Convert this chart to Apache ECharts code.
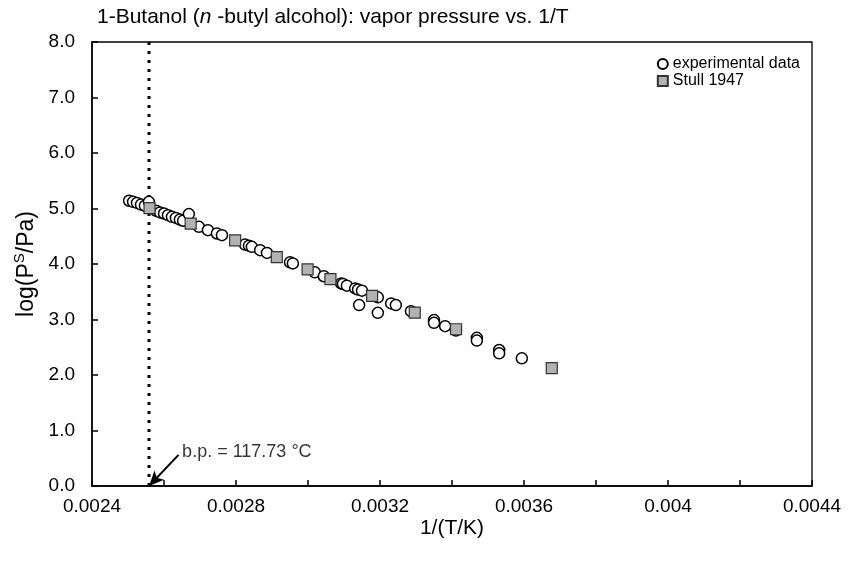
<!DOCTYPE html>
<html><head><meta charset="utf-8">
<script src="https://cdn.jsdelivr.net/npm/echarts@6/dist/echarts.min.js"></script>
<style>html,body{margin:0;padding:0;background:#fff}#c{width:848px;height:565px}</style>
</head><body><div id="c"></div>
<script>
// experimental data: 1/T (1/K) and log(P/Pa)
const expX = [0.002503,0.002514,0.002525,0.002536,0.002547,0.002558,0.002578,0.002589,0.002600,0.002611,0.002622,0.002633,0.002644,0.002653,0.002669,0.002697,0.002722,0.002747,0.002761,0.002825,0.002836,0.002844,0.002867,0.002886,0.002950,0.002958,0.003019,0.003044,0.003092,0.003097,0.003108,0.003131,0.003139,0.003150,0.003194,0.003142,0.003194,0.003231,0.003244,0.003286,0.003350,0.003350,0.003381,0.003411,0.003469,0.003469,0.003531,0.003531,0.003594];
const expY = [5.14,5.12,5.10,5.07,5.05,5.12,4.96,4.93,4.91,4.88,4.85,4.83,4.80,4.78,4.90,4.67,4.61,4.55,4.52,4.35,4.33,4.31,4.25,4.20,4.03,4.01,3.85,3.78,3.65,3.64,3.61,3.56,3.54,3.52,3.40,3.26,3.12,3.29,3.26,3.15,2.99,2.94,2.88,2.80,2.67,2.62,2.45,2.39,2.30];
// Stull 1947
const stullX = [0.0025598,0.0026741,0.0027976,0.0029133,0.0029989,0.0030623,0.0031781,0.0032965,0.0034112,0.0036771];
const stullY = [5.006,4.727,4.426,4.125,3.903,3.727,3.426,3.125,2.824,2.125];
const xTickLabels = ['0.0024','0.0028','0.0032','0.0036','0.004','0.0044'];
const yTickLabels = ['0.0','1.0','2.0','3.0','4.0','5.0','6.0','7.0','8.0'];
const boilingPointC = 117.73;
const bpX = 1 / (boilingPointC + 273.15);

const chart = echarts.init(document.getElementById('c'));
const font = 'Liberation Sans, Arial, sans-serif';
chart.setOption({
  animation: false,
  backgroundColor: '#fff',
  textStyle: {fontFamily: font, color: '#000'},
  title: {
    text: '{a|1-Butanol (}{i|n}{a| -butyl alcohol): vapor pressure vs. 1/T}',
    left: 97, top: 7, padding: 0,
    textStyle: {fontFamily: font, fontWeight: 'normal', rich: {
      a: {fontSize: 21, fontFamily: font, fontWeight: 'normal', color: '#000'},
      i: {fontSize: 21, fontFamily: font, fontStyle: 'italic', fontWeight: 'normal', color: '#000'}
    }}
  },
  legend: {
    right: 43, top: 51, orient: 'vertical', itemWidth: 10, itemHeight: 10, itemGap: 1,
    textStyle: {fontSize: 16, fontFamily: font, color: '#000'},
    data: ['experimental data', 'Stull 1947']
  },
  grid: {left: 92, right: 36, top: 42, bottom: 79, show: true, borderColor: '#000', borderWidth: 1.3},
  xAxis: {
    type: 'value', min: 0.0024, max: 0.0044, interval: 0.0002,
    name: '1/(T/K)', nameLocation: 'middle', nameGap: 32, nameMoveOverlap: false,
    nameTextStyle: {fontSize: 21, fontFamily: font, color: '#000'},
    axisLine: {lineStyle: {color: '#000', width: 1.5}},
    axisTick: {inside: true, length: 6, lineStyle: {color: '#000', width: 1.5}},
    splitLine: {show: false},
    axisLabel: {fontSize: 19, fontFamily: font, color: '#000', margin: 11,
      formatter: function (v) {
        const n = Math.round(v * 10000);
        if (n % 4 !== 0) return '';
        return xTickLabels[(n - 24) / 4] || '';
      }}
  },
  yAxis: {
    type: 'value', min: 0, max: 8, interval: 1,
    name: '{a|log(P}{s|S}{a|/Pa)}', nameLocation: 'middle', nameGap: 48,
    nameTextStyle: {fontFamily: font, rich: {
      a: {fontSize: 23, fontFamily: font, color: '#000'},
      s: {fontSize: 15, fontFamily: font, color: '#000', padding: [0, 0, 12, 0]}
    }},
    axisLine: {lineStyle: {color: '#000', width: 1.5}},
    axisTick: {inside: true, length: 6, lineStyle: {color: '#000', width: 1.5}},
    splitLine: {show: false},
    axisLabel: {fontSize: 19, fontFamily: font, color: '#000', margin: 17,
      formatter: function (v) { return yTickLabels[Math.round(v)]; }}
  },
  series: [
    {
      name: 'bp', type: 'line', symbol: 'none', silent: true,
      data: [[bpX, 0], [bpX, 8]],
      lineStyle: {color: '#000', width: 3, type: [3, 6]},
      markLine: {
        silent: true, symbol: ['none', 'arrow'], symbolSize: [10, 15],
        lineStyle: {color: '#000', width: 2, type: 'solid'},
        label: {show: false},
        data: [[{coord: [bpX + 0.000082, 0.56]}, {coord: [bpX, 0]}]]
      }
    },
    {
      name: 'annot', type: 'scatter', symbolSize: 0, silent: true,
      data: [[bpX + 0.000092, 0.62]],
      label: {show: true, position: 'right', distance: 0, formatter: 'b.p. = ' + boilingPointC + ' °C',
        fontSize: 18, fontFamily: font, color: '#000'}
    },
    {
      name: 'experimental data', type: 'scatter', symbol: 'circle', symbolSize: 11,
      data: expX.map((x, i) => [x, expY[i]]),
      itemStyle: {color: '#fff', borderColor: '#000', borderWidth: 1.5, opacity: 1},
      z: 3
    },
    {
      name: 'Stull 1947', type: 'scatter', symbol: 'rect', symbolSize: 11,
      data: stullX.map((x, i) => [x, stullY[i]]),
      itemStyle: {color: '#b2b2b2', borderColor: '#333', borderWidth: 1.2, opacity: 1},
      z: 4
    }
  ]
});
</script></body></html>
